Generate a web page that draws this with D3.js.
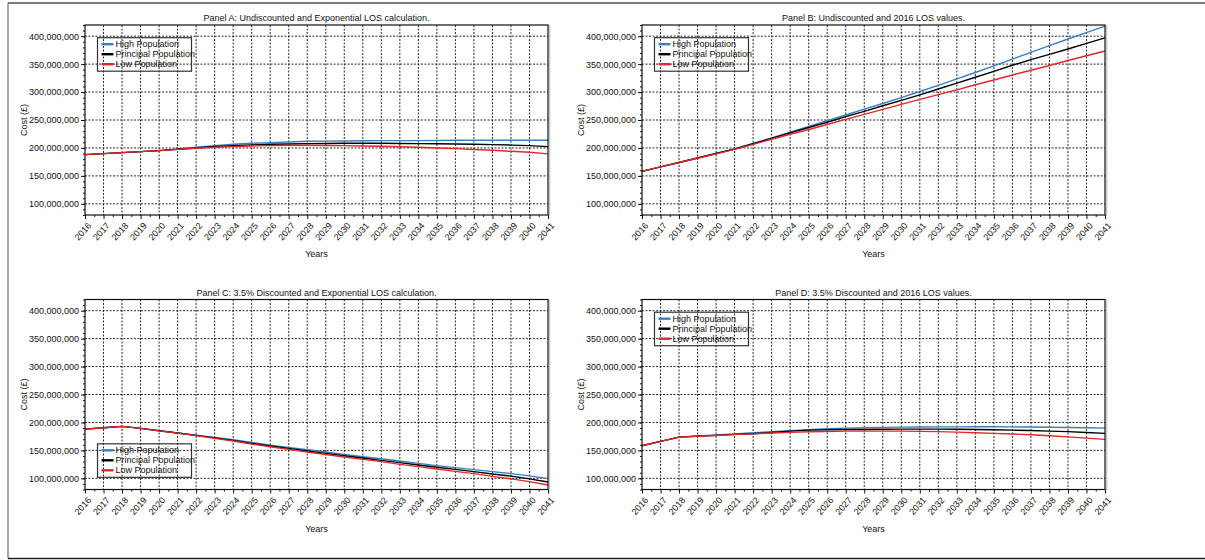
<!DOCTYPE html>
<html>
<head>
<meta charset="utf-8">
<script src="https://cdn.jsdelivr.net/npm/d3@7"></script>
<style>
	body { margin: 0; background: #fff; }
	svg text { font-family: "Liberation Sans", Arial, sans-serif; fill: #111; }
</style>
</head>
<body>
<svg id="chart" width="1205" height="560"></svg>
<script>
'use strict';

// years on the x axis
var years = [2016, 2017, 2018, 2019, 2020, 2021, 2022, 2023, 2024, 2025, 2026, 2027, 2028,
	2029, 2030, 2031, 2032, 2033, 2034, 2035, 2036, 2037, 2038, 2039, 2040, 2041];

// y ticks, in millions of pounds
var yTicks = [100, 150, 200, 250, 300, 350, 400];

var seriesNames = ['High Population', 'Principal Population', 'Low Population'];
var seriesColors = ['#3a7fc1', '#000000', '#e3262a'];

var panelTitles = [
	'Panel A: Undiscounted and Exponential LOS calculation.',
	'Panel B: Undiscounted and 2016 LOS values.',
	'Panel C: 3.5% Discounted and Exponential LOS calculation.',
	'Panel D: 3.5% Discounted and 2016 LOS values.'
];

// costs in millions of pounds
var panelAHigh = [188.1, 189.9, 191.7, 193.5, 195.2, 197.8, 201.2, 204.2, 206.5, 208.3, 209.5, 210.7, 211.9,
	212.2, 212.5, 212.8, 213.1, 213.1, 213.1, 213.4, 213.7, 213.7, 213.7, 213.7, 213.7, 213.7];
var panelAPrincipal = [188.1, 189.9, 191.7, 193.5, 195.2, 197.6, 200, 202.6, 204.2, 205.4, 206.5, 207.1, 207.7,
	208, 208.3, 208.3, 208.3, 208, 207.7, 207.4, 207.1, 206.5, 206, 205.1, 204.2, 202.4];
var panelALow = [188.1, 189.9, 191.7, 193.5, 195.2, 197.4, 199.4, 201.2, 202.4, 203.6, 204.2, 204.8, 204.8,
	204.5, 204.2, 203.6, 203, 202.1, 201.2, 200, 198.8, 197.3, 195.8, 194, 192.3, 189.3];

var panelBHigh = [158, 166, 174, 182, 190, 198.5, 208, 218, 228, 238.5, 249, 259, 269.5,
	279.5, 290, 301, 312, 323.5, 335, 347, 359, 371, 383, 395, 406.5, 418];
var panelBPrincipal = [158, 166, 174, 182, 190, 198, 207.5, 217, 227, 236.5, 246, 256, 265.5,
	275.5, 285, 295, 305.5, 316, 326.5, 337, 348, 358, 367.5, 377, 387, 397];
var panelBLow = [158, 166, 174, 181.5, 189.5, 197.5, 206.5, 215.5, 224.5, 233, 242, 251, 260,
	269, 278, 287, 295.5, 304, 313, 321.5, 330.5, 339, 347.5, 356.5, 365, 373.5];

var panelCHigh = [188, 190.5, 193, 189.3, 185.3, 181, 177, 173.2, 169.1, 164.3, 159.5, 155.4, 151.2,
	147, 142.9, 138.7, 135.1, 131, 126.8, 122.7, 119.1, 115.5, 111.9, 108.4, 104.3, 99.4];
var panelCPrincipal = [188, 190.5, 193, 189.3, 185.1, 181, 176.8, 172.3, 167.9, 162.5, 157.8, 153.6, 148.8,
	144.7, 140.5, 136.3, 132.2, 128, 123.8, 119.7, 116.1, 111.9, 107.8, 104, 99, 93.5];
var panelCLow = [188, 190.5, 192.9, 189.3, 185, 180.8, 176.5, 171.4, 166.7, 161.3, 156.6, 151.8, 147,
	142.7, 138.1, 134, 129.8, 125, 120.9, 116.7, 112.5, 108.4, 103.5, 99, 94, 88];

var panelDHigh = [158.3, 166, 173.8, 175.8, 177.5, 179.5, 181.5, 183.5, 185.3, 187.2, 188.7, 189.9, 190.5,
	191.1, 191.7, 191.9, 192, 192.1, 192.2, 192.2, 192, 191.8, 191.3, 191, 190.5, 189.8];
var panelDPrincipal = [158.3, 166, 173.8, 175.6, 176.8, 178.6, 179.8, 182, 184.5, 186.3, 186.9, 187.5, 187.5,
	187.8, 188.1, 188.1, 188.1, 187.9, 187.5, 186.9, 186.3, 185.5, 184.5, 183.5, 182, 180.4];
var panelDLow = [158.3, 166, 173.5, 175.3, 176.6, 178.2, 179.5, 181, 182.2, 183.3, 183.9, 184.5, 184.5,
	184.5, 184.5, 184, 183.5, 182.7, 181.6, 180.5, 179.3, 178, 176.2, 174.2, 172, 169.7];

var panels = [
	{title: panelTitles[0], series: [panelAHigh, panelAPrincipal, panelALow], left: 85, top: 25, legend: 'top'},
	{title: panelTitles[1], series: [panelBHigh, panelBPrincipal, panelBLow], left: 642, top: 25, legend: 'top'},
	{title: panelTitles[2], series: [panelCHigh, panelCPrincipal, panelCLow], left: 85, top: 299.5, legend: 'bottom'},
	{title: panelTitles[3], series: [panelDHigh, panelDPrincipal, panelDLow], left: 642, top: 299.5, legend: 'top'}
];

var width = 463;
var height = 190;

var svg = d3.select('#chart');

// outer frame of the figure
svg.append('line').attr('x1', 8).attr('x2', 1205).attr('y1', 3).attr('y2', 3)
	.style('stroke', '#7a7a7a').style('stroke-width', 2);
svg.append('line').attr('x1', 8).attr('x2', 8).attr('y1', 3).attr('y2', 558)
	.style('stroke', '#8a8a8a').style('stroke-width', 1.5);
svg.append('line').attr('x1', 8).attr('x2', 1205).attr('y1', 558.5).attr('y2', 558.5)
	.style('stroke', '#222').style('stroke-width', 1.5);

var x = d3.scaleLinear().domain([2016, 2041]).range([0, width]);
var y = d3.scaleLinear().domain([80, 420]).range([height, 0]);
var fmt = d3.format(',');

function drawPanel(p) {
	var g = svg.append('g')
		.attr('transform', 'translate(' + p.left + ',' + p.top + ')');

	// grid
	g.append('g')
		.selectAll('line')
		.data(years.slice(1, -1))
		.enter()
		.append('line')
		.attr('x1', function(d) {return x(d);})
		.attr('x2', function(d) {return x(d);})
		.attr('y1', 0)
		.attr('y2', height)
		.style('stroke', '#111')
		.style('stroke-width', 0.9)
		.style('stroke-dasharray', '2,1.5');

	g.append('g')
		.selectAll('line')
		.data(yTicks)
		.enter()
		.append('line')
		.attr('x1', 0)
		.attr('x2', width)
		.attr('y1', function(d) {return y(d);})
		.attr('y2', function(d) {return y(d);})
		.style('stroke', '#111')
		.style('stroke-width', 0.9)
		.style('stroke-dasharray', '2,1.5');

	// lines
	var valueline = d3.line()
		.x(function(d, i) {return x(years[i]);})
		.y(function(d) {return y(d);});

	p.series.forEach(function(s, i) {
		g.append('path')
			.datum(s)
			.attr('d', valueline)
			.style('fill', 'none')
			.style('stroke-width', 1.4)
			.style('stroke', seriesColors[i]);
	});

	// y axis: major and minor ticks
	var yAxis = g.append('g')
		.call(d3.axisLeft(y)
			.tickValues(yTicks)
			.tickSize(4)
			.tickPadding(2)
			.tickFormat(function(d) {return fmt(d * 1e6);}));
	yAxis.select('.domain').remove();
	yAxis.selectAll('text').style('font-size', '9px').style('fill', '#111');

	var yMinor = g.append('g')
		.call(d3.axisLeft(y)
			.tickValues(d3.range(80, 421, 10))
			.tickSize(2)
			.tickFormat(''));
	yMinor.select('.domain').remove();

	// x axis: major and minor ticks
	var xAxis = g.append('g')
		.attr('transform', 'translate(0,' + height + ')')
		.call(d3.axisBottom(x)
			.tickValues(years)
			.tickSize(4)
			.tickFormat(function(d) {return String(d);}));
	xAxis.select('.domain').remove();
	xAxis.selectAll('text')
		.style('font-size', '9px')
		.style('fill', '#111')
		.style('text-anchor', 'end')
		.attr('x', 0)
		.attr('y', 0)
		.attr('dy', '0.35em')
		.attr('transform', 'translate(4,9) rotate(-48)');

	var xMinor = g.append('g')
		.attr('transform', 'translate(0,' + height + ')')
		.call(d3.axisBottom(x)
			.tickValues(d3.range(2016.5, 2041, 1))
			.tickSize(2)
			.tickFormat(''));
	xMinor.select('.domain').remove();

	g.selectAll('.tick line').style('stroke', '#111');

	// frame
	g.append('line')
		.attr('x1', width + 1.6).attr('x2', width + 1.6)
		.attr('y1', 0).attr('y2', height + 1)
		.style('stroke', '#c8c8c8').style('stroke-width', 1.4);
	g.append('rect')
		.attr('width', width)
		.attr('height', height)
		.style('fill', 'none')
		.style('stroke', '#111')
		.style('stroke-width', 1.2);

	// titles
	g.append('text')
		.attr('x', width / 2)
		.attr('y', -4)
		.style('text-anchor', 'middle')
		.style('font-size', '9px')
		.text(p.title);

	g.append('text')
		.attr('x', width / 2)
		.attr('y', height + 42)
		.style('text-anchor', 'middle')
		.style('font-size', '9px')
		.text('Years');

	g.append('text')
		.attr('transform', 'rotate(-90)')
		.attr('x', -height / 2)
		.attr('y', -58)
		.style('text-anchor', 'middle')
		.style('font-size', '9px')
		.text('Cost (£)');

	appendLegend(g, p.legend);
}

function appendLegend(g, where) {
	var boxW = 94;
	var boxH = 33.5;
	var lx = 12.5;
	var ly = where === 'top' ? 12.7 : height - 12.2 - boxH;

	var legend = g.append('g')
		.attr('transform', 'translate(' + lx + ',' + ly + ')');

	legend.append('rect')
		.attr('width', boxW)
		.attr('height', boxH)
		.style('fill', 'none')
		.style('stroke', '#333')
		.style('stroke-width', 1.2);

	seriesNames.forEach(function(name, i) {
		var ry = 6.5 + i * 10;
		legend.append('line')
			.attr('x1', 4).attr('x2', 16)
			.attr('y1', ry).attr('y2', ry)
			.style('stroke', seriesColors[i])
			.style('stroke-width', 2.4);
		legend.append('text')
			.attr('x', 18)
			.attr('y', ry + 3.2)
			.style('font-size', '9px')
			.text(name);
	});
}

panels.forEach(drawPanel);
</script>
</body>
</html>
